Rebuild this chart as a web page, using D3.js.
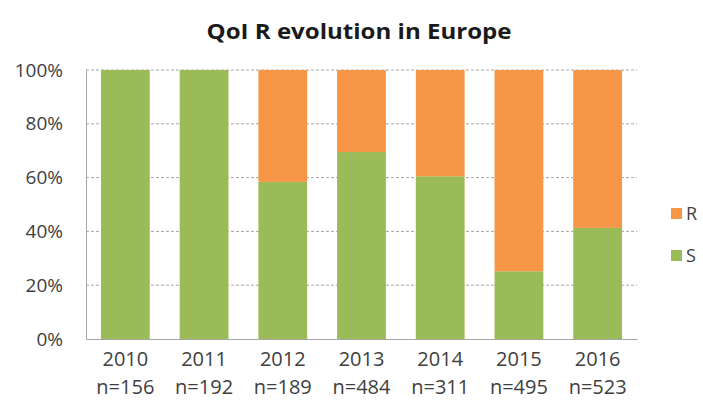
<!DOCTYPE html>
<html>
<head>
<meta charset="utf-8">
<script src="https://cdn.jsdelivr.net/npm/d3@7"></script>
<style>
  body { margin: 0; background: #fff; }
  svg { display: block; font-family: "Open Sans", "Noto Sans", sans-serif; }
</style>
</head>
<body>
<svg id="chart" width="703" height="410"></svg>
<script>
// Share of resistant (R) and sensitive (S) isolates per year
const years = ["2010", "2011", "2012", "2013", "2014", "2015", "2016"];
const sampleSizes = [156, 192, 189, 484, 311, 495, 523];
const sShare = [100, 100, 58.4, 69.5, 60.5, 25.2, 41.3];
const rShare = [0, 0, 41.6, 30.5, 39.5, 74.8, 58.7];
const yTicks = [0, 20, 40, 60, 80, 100];
const seriesNames = ["S", "R"];
const seriesColors = { S: "#9BBB59", R: "#F79646" };

const svg = d3.select("#chart");
const margin = { left: 86, right: 66, top: 70, bottom: 71 };
const W = 703, H = 410;
const labelColor = "#404040";

const x = d3.scaleBand().domain(years)
  .range([margin.left, W - margin.right]).paddingInner(0.38).paddingOuter(0.19);
const y = d3.scaleLinear().domain([0, 100]).range([H - margin.bottom, margin.top]);

const rows = years.map((yr, i) => ({ year: yr, n: sampleSizes[i], S: sShare[i], R: rShare[i] }));
const stacked = d3.stack().keys(seriesNames)(rows);

// title
svg.append("text")
  .attr("x", 359).attr("y", 39)
  .attr("text-anchor", "middle")
  .attr("font-size", 22).attr("font-weight", "bold").attr("fill", "#1a1a1a")
  .attr("textLength", 305).attr("lengthAdjust", "spacingAndGlyphs")
  .text("QoI R evolution in Europe");

// dashed gridlines
svg.append("g").selectAll("line").data(yTicks.filter(d => d > 0)).join("line")
  .attr("x1", margin.left).attr("x2", W - margin.right)
  .attr("y1", d => y(d)).attr("y2", d => y(d))
  .attr("stroke", "#a6a6a6").attr("stroke-width", 1)
  .attr("stroke-dasharray", "3,2");

// bars
svg.append("g").selectAll("g").data(stacked).join("g")
  .attr("fill", d => seriesColors[d.key])
  .selectAll("rect").data(d => d).join("rect")
  .attr("x", d => x(d.data.year))
  .attr("width", x.bandwidth())
  .attr("y", d => y(d[1]))
  .attr("height", d => y(d[0]) - y(d[1]));

// y axis
const yAxis = d3.axisLeft(y).tickValues(yTicks).tickFormat(d => d + "%").tickSize(0).tickPadding(23);
const gy = svg.append("g").attr("transform", `translate(${margin.left},0)`).call(yAxis);
gy.select(".domain").attr("stroke", "#a6a6a6");
gy.selectAll("text").attr("font-size", 19).attr("fill", labelColor)
  .attr("font-family", "\"Open Sans\", sans-serif");

// x axis
const xAxis = d3.axisBottom(x).tickSize(0).tickFormat(() => "");
const gx = svg.append("g").attr("transform", `translate(0,${H - margin.bottom})`).call(xAxis);
gx.select(".domain").attr("stroke", "#a6a6a6");

const lbl = svg.append("g").selectAll("text").data(rows).join("text")
  .attr("text-anchor", "middle")
  .attr("font-size", 20).attr("fill", labelColor)
  .attr("x", d => x(d.year) + x.bandwidth() / 2);
lbl.append("tspan").attr("y", 366).attr("x", d => x(d.year) + x.bandwidth() / 2).text(d => d.year);
lbl.append("tspan").attr("y", 394).attr("x", d => x(d.year) + x.bandwidth() / 2).text(d => "n=" + d.n);

// legend
const legendItems = ["R", "S"];
const lg = svg.append("g").selectAll("g").data(legendItems).join("g")
  .attr("transform", (d, i) => `translate(671,${208 + i * 42})`);
lg.append("rect").attr("width", 11).attr("height", 11).attr("fill", d => seriesColors[d]);
lg.append("text").attr("x", 15).attr("y", 12)
  .attr("font-size", 18).attr("fill", labelColor).text(d => d);
</script>
</body>
</html>
